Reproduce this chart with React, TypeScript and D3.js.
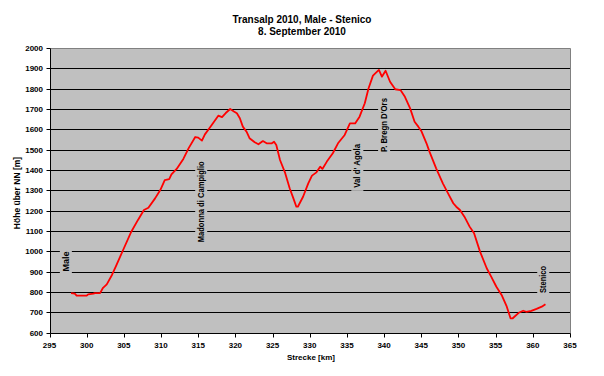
import React from "react";
import * as d3 from "d3";

const titleLines = ["Transalp 2010, Male - Stenico", "8. September 2010"];
const xTicks = [295, 300, 305, 310, 315, 320, 325, 330, 335, 340, 345, 350, 355, 360, 365];
const yTicks = [600, 700, 800, 900, 1000, 1100, 1200, 1300, 1400, 1500, 1600, 1700, 1800, 1900, 2000];
const xTitle = "Strecke [km]";
const yTitle = "Höhe über NN [m]";

const km = [297.9, 298.4, 298.65, 300.0, 300.2, 300.9, 301.1, 301.8, 302.2, 302.7, 303.4, 304.0, 304.9, 306.0, 306.9, 307.7, 308.3, 309.2, 309.9, 310.5, 311.1, 311.4, 312.1, 313.0, 313.7, 314.6, 315.0, 315.5, 315.9, 316.6, 317.7, 318.2, 318.7, 319.3, 319.8, 320.2, 320.6, 321.0, 321.5, 321.9, 322.6, 323.1, 323.7, 324.2, 324.9, 325.2, 325.5, 326.0, 326.7, 327.3, 327.8, 328.2, 328.4, 329.1, 329.8, 330.3, 330.9, 331.4, 331.7, 332.3, 333.1, 333.8, 334.7, 335.4, 336.1, 336.7, 337.4, 337.9, 338.5, 339.3, 339.7, 340.2, 340.8, 341.5, 342.2, 342.8, 343.5, 344.1, 344.6, 345.0, 345.7, 346.1, 347.0, 347.9, 348.6, 349.3, 349.7, 350.2, 350.8, 351.5, 352.1, 352.9, 353.8, 354.4, 355.1, 355.8, 356.5, 357.0, 357.3, 358.1, 358.7, 359.1, 359.8, 360.5, 361.2, 361.7];
const elevation = [794, 791, 781, 781, 788, 791, 794, 794, 820, 837, 883, 932, 1006, 1096, 1154, 1203, 1214, 1260, 1301, 1350, 1355, 1378, 1405, 1454, 1506, 1562, 1559, 1544, 1575, 1610, 1667, 1660, 1680, 1700, 1688, 1679, 1654, 1613, 1588, 1556, 1536, 1526, 1542, 1531, 1531, 1539, 1523, 1449, 1384, 1310, 1260, 1219, 1219, 1268, 1334, 1372, 1388, 1416, 1405, 1441, 1482, 1531, 1572, 1629, 1629, 1662, 1728, 1801, 1864, 1892, 1859, 1888, 1834, 1797, 1793, 1760, 1703, 1637, 1613, 1592, 1531, 1490, 1408, 1334, 1285, 1236, 1219, 1203, 1170, 1121, 1088, 998, 916, 875, 825, 785, 727, 670, 670, 697, 707, 702, 706, 716, 727, 739];

const placeNames = ["Male", "Madonna di Campiglio", "Val d' Agola", "P. Bregn D'Ors", "Stenico"];
const placeKm = [297.2, 315.4, 336.4, 340.0, 361.4];
const placeElev = [950, 1243, 1420, 1621, 861];
const placeLen = [20, 81, 44, 54, 27];

const W = 604, H = 376;
const L = 49.5, R = 570, T = 48, B = 332.5;
const FONT = "Arial, 'Liberation Sans', sans-serif";

export default function App() {
  const x = d3.scaleLinear().domain([295, 365]).range([L, R]);
  const y = d3.scaleLinear().domain([600, 2000]).range([B, T]);
  const px = (v: number) => Math.round(v) + 0.5;
  const line = d3.line<number>().x((_, i) => x(km[i])).y((d) => y(d));
  const left = px(L), right = px(R), top = px(T), bottom = px(B);

  return (
    <svg width={W} height={H} style={{ position: "absolute", left: 0, top: 0, background: "#fff" }} fontFamily={FONT}>
      <rect x={0} y={0} width={W} height={H} fill="#fff" />
      <rect x={left} y={top} width={right - left} height={bottom - top} fill="#C0C0C0" />
      {yTicks.filter((t) => t > 600 && t < 2000).map((t) => (
        <line key={t} x1={left} x2={right} y1={px(y(t))} y2={px(y(t))} stroke="#000" strokeWidth={1} />
      ))}
      <line x1={left} x2={right} y1={top} y2={top} stroke="#808080" strokeWidth={1} />
      <line x1={right} x2={right} y1={top} y2={bottom} stroke="#808080" strokeWidth={1} />
      {placeNames.map((n, i) => {
        const cx = x(placeKm[i]);
        const cy = y(placeElev[i]);
        const len = placeLen[i];
        return (
          <g key={n}>
            <rect x={cx - 6} y={cy - len / 2 - 3} width={12} height={len + 6} fill="#C0C0C0" />
          </g>
        );
      })}
      <path d={line(elevation) || ""} fill="none" stroke="#FF0000" strokeWidth={1.8} strokeLinejoin="round" />
      {placeNames.map((n, i) => {
        const cx = x(placeKm[i]);
        const cy = y(placeElev[i]);
        return (
          <text key={n} transform={`translate(${cx + 3},${cy}) rotate(-90)`} textAnchor="middle" fontSize={8.5} fontWeight="bold" fill="#000"
            textLength={placeLen[i]} lengthAdjust="spacingAndGlyphs">{n}</text>
        );
      })}
      <line x1={left} x2={left} y1={top} y2={bottom} stroke="#000" strokeWidth={1} />
      <line x1={left} x2={right} y1={bottom} y2={bottom} stroke="#000" strokeWidth={1} />
      {yTicks.map((t) => (
        <g key={t}>
          <line x1={left - 4} x2={left} y1={px(y(t))} y2={px(y(t))} stroke="#000" />
          <text x={43} y={y(t) + 3} textAnchor="end" fontSize={8} fontWeight="bold">{t}</text>
        </g>
      ))}
      {xTicks.map((t) => (
        <g key={t}>
          <line x1={px(x(t))} x2={px(x(t))} y1={bottom} y2={bottom + 4} stroke="#000" />
          <text x={x(t)} y={348} textAnchor="middle" fontSize={8} fontWeight="bold">{t}</text>
        </g>
      ))}
      <text x={311} y={360} textAnchor="middle" fontSize={8} fontWeight="bold">{xTitle}</text>
      <text transform={`translate(20,193) rotate(-90)`} textAnchor="middle" fontSize={8.5} fontWeight="bold">{yTitle}</text>
      {titleLines.map((s, i) => (
        <text key={s} x={302} y={23 + i * 12} textAnchor="middle" fontSize={10} fontWeight="bold">{s}</text>
      ))}
    </svg>
  );
}
